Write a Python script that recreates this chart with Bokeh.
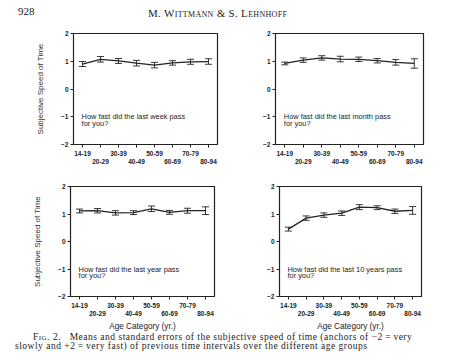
from bokeh.plotting import figure
from bokeh.models import (FixedTicker, LinearAxis, Whisker, ColumnDataSource,
                          TeeHead, Range1d, Div)
from bokeh.layouts import column, row
from bokeh.core.properties import value
from bokeh.embed import file_html
from bokeh.resources import INLINE

# ---------------- data ----------------
age_groups = ["14-19", "20-29", "30-39", "40-49", "50-59", "60-69", "70-79", "80-94"]
y_ticks = [-2, -1, 0, 1, 2]

week_mean = [0.90, 1.07, 1.01, 0.93, 0.86, 0.94, 0.98, 0.99]
week_se = [0.09, 0.10, 0.09, 0.10, 0.10, 0.08, 0.09, 0.10]

month_mean = [0.92, 1.04, 1.12, 1.08, 1.07, 1.02, 0.96, 0.92]
month_se = [0.05, 0.08, 0.08, 0.10, 0.08, 0.08, 0.10, 0.17]

year_mean = [1.11, 1.12, 1.04, 1.05, 1.19, 1.06, 1.12, 1.12]
year_se = [0.07, 0.08, 0.08, 0.07, 0.10, 0.07, 0.09, 0.14]

decade_mean = [0.45, 0.85, 0.96, 1.03, 1.25, 1.23, 1.10, 1.13]
decade_se = [0.07, 0.08, 0.08, 0.08, 0.09, 0.07, 0.08, 0.14]

week_q = ["How fast did the last week pass", "for you?"]
month_q = ["How fast did the last month pass", "for you?"]
year_q = ["How fast did the last year pass", "for you?"]
decade_q = ["How fast did the last 10 years pass", "for you?"]

y_title = "Subjective Speed of Time"
x_title = "Age Category (yr.)"

INK = "#222222"
SANS = "Liberation Sans"


def panel(mean, se, question, fw, fh, bl, br, bt, bb, ylab, xlab):
    p = figure(frame_width=fw, frame_height=fh, title=None,
               x_range=Range1d(-0.5, 7.5), y_range=Range1d(-2, 2),
               output_backend="svg", toolbar_location=None, x_axis_type=None,
               min_border_left=bl, min_border_right=br, min_border_top=bt,
               min_border_bottom=bb, margin=0)
    p.background_fill_color = "white"
    p.border_fill_color = "white"
    p.outline_line_color = INK
    p.outline_line_width = 1.2
    p.outline_line_alpha = 1.0
    p.ygrid.visible = False

    ya = p.yaxis[0]
    ya.ticker = FixedTicker(ticks=y_ticks)
    ya.major_tick_out = 3
    ya.major_tick_in = 0
    ya.minor_tick_out = 0
    ya.minor_tick_in = 0
    ya.axis_line_color = INK
    ya.major_tick_line_color = INK
    ya.major_label_standoff = 2
    ya.major_label_text_font = SANS
    ya.major_label_text_font_size = "6.5px"
    ya.major_label_text_font_style = "bold"
    ya.major_label_text_color = INK
    if ylab:
        ya.axis_label = y_title
        ya.axis_label_text_font = SANS
        ya.axis_label_text_font_size = "8px"
        ya.axis_label_text_font_style = "normal"
        ya.axis_label_text_color = "#333333"
        ya.axis_label_standoff = 13

    n = len(age_groups)
    even = [i for i in range(n) if i % 2 == 0]
    odd = [i for i in range(n) if i % 2 == 1]
    ax1 = LinearAxis(ticker=FixedTicker(ticks=even, minor_ticks=odd),
                     major_label_overrides={i: age_groups[i] for i in even})
    ax1.major_tick_out = 3
    ax1.major_tick_in = 0
    ax1.minor_tick_out = 3
    ax1.minor_tick_in = 0
    ax1.axis_line_color = INK
    ax1.major_tick_line_color = INK
    ax1.minor_tick_line_color = INK
    ax1.major_label_standoff = 3
    ax1.major_label_text_font = SANS
    ax1.major_label_text_font_size = "6.5px"
    ax1.major_label_text_font_style = "bold"
    ax1.major_label_text_color = INK
    p.add_layout(ax1, "below")

    ax2 = LinearAxis(ticker=FixedTicker(ticks=odd, minor_ticks=[]),
                     major_label_overrides={i: age_groups[i] for i in odd})
    ax2.major_tick_out = 0
    ax2.major_tick_in = 0
    ax2.minor_tick_out = 0
    ax2.minor_tick_in = 0
    ax2.axis_line_color = None
    ax2.major_tick_line_color = None
    ax2.minor_tick_line_color = None
    ax2.major_label_standoff = 0
    ax2.major_label_text_font = SANS
    ax2.major_label_text_font_size = "6.5px"
    ax2.major_label_text_font_style = "bold"
    ax2.major_label_text_color = INK
    if xlab:
        ax2.axis_label = x_title
        ax2.axis_label_text_font = SANS
        ax2.axis_label_text_font_size = "8.2px"
        ax2.axis_label_text_font_style = "normal"
        ax2.axis_label_text_color = INK
        ax2.axis_label_standoff = 3
    p.add_layout(ax2, "below")

    xs = list(range(n))
    src = ColumnDataSource(data=dict(
        x=xs, m=mean,
        upper=[m + s for m, s in zip(mean, se)],
        lower=[m - s for m, s in zip(mean, se)]))
    p.line("x", "m", source=src, line_color=INK, line_width=1.3)
    wh = Whisker(base="x", upper="upper", lower="lower", source=src, dimension="height",
                 line_color=INK, line_width=0.9,
                 upper_head=TeeHead(size=7, line_color=INK, line_width=0.9),
                 lower_head=TeeHead(size=7, line_color=INK, line_width=0.9))
    p.add_layout(wh)

    p.text(x=[-0.05, -0.05], y=[-1.0, -1.23], text=question,
           text_font=value(SANS), text_font_size=value("7.4px"),
           text_baseline="middle", text_align="left", text_color=INK)
    return p


# frame sizes and borders (page has no body margin: content starts at 0,0)
tl = panel(week_mean, week_se, week_q, 144, 111, 73, 41, 6, 30, True, False)
tr = panel(month_mean, month_se, month_q, 148, 111, 17, 34, 9, 27, False, False)
bl = panel(year_mean, year_se, year_q, 144, 110, 70, 44, 12, 48, True, True)
br = panel(decade_mean, decade_se, decade_q, 142, 110, 21, 36, 15, 45, False, True)

header = Div(width=457, height=24, margin=0, text=(
    '<div style="position:relative;width:457px;height:24px;'
    'font-family:\'Liberation Serif\';color:#222;line-height:11px;white-space:nowrap">'
    '<span style="position:absolute;left:18px;top:6px;font-size:11px">928</span>'
    '<span style="position:absolute;left:148px;top:8px;font-size:11px;'
    'font-variant:small-caps;letter-spacing:0.3px">M. Wittmann &amp; S. Lehnhoff</span>'
    '</div>'))

caption = Div(width=457, height=18, margin=0, text=(
    '<div style="position:relative;width:457px;height:18px;overflow:visible;'
    'font-family:\'Liberation Serif\';font-size:9.5px;line-height:9.5px;'
    'letter-spacing:0.5px;color:#222;white-space:nowrap">'
    '<span style="position:absolute;left:33px;top:-8px">'
    '<span style="font-variant:small-caps">Fig. 2.</span>&nbsp;&nbsp; '
    'Means and standard errors of the subjective speed of time (anchors of \u22122\u2009=\u2009very</span>'
    '<span style="position:absolute;left:15px;top:1px">'
    'slowly and +2\u2009=\u2009very fast) of previous time intervals over the different age groups</span>'
    '</div>'))

layout = column(header, row(tl, tr), row(bl, br), caption)

open("out.html", "w").write(file_html(layout, INLINE))
